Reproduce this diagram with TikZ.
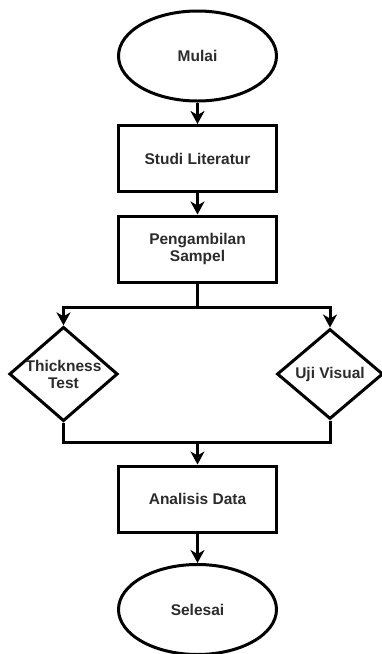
\documentclass[tikz,border=0pt]{standalone}
\usepackage{fontspec}
\setmainfont{Liberation Sans}
\usetikzlibrary{shapes.geometric,arrows.meta}
\definecolor{labelgrey}{HTML}{2B2B2B}
\begin{document}
\begin{tikzpicture}[x=1pt,y=-1pt,
  every node/.style={font=\bfseries\fontsize{15.5}{17}\selectfont, text=labelgrey, align=center},
  terminal/.style={ellipse, draw, line width=3pt, minimum width=158pt, minimum height=90pt, inner sep=0pt},
  process/.style={rectangle, draw, line width=3pt, minimum width=158pt, minimum height=66pt, inner sep=0pt},
  decision/.style={diamond, draw, line width=3pt, minimum width=106pt, minimum height=90pt, inner sep=0pt, aspect=1.15},
  link/.style={line width=3pt, -{Stealth[length=13pt,width=14pt,inset=4pt]}},
  wire/.style={line width=3pt}
]
\useasboundingbox (0,0) rectangle (382,654);
\node[terminal] (mulai) at (197.5,56) {Mulai};
\node[process] (studi) at (197.5,158.5) {Studi Literatur};
\node[process] (ambil) at (197.5,249) {Pengambilan\\Sampel};
\node[decision] (tebal) at (63.5,374) {Thickness\\Test};
\node[decision] (visual) at (330,374) {Uji Visual};
\node[process] (analisis) at (197.5,499) {Analisis Data};
\node[terminal] (selesai) at (197.5,609.5) {Selesai};

\coordinate (cabang) at (197.5,307);
\coordinate (gabung) at (197.5,442.5);

\draw[link] (mulai) -- (studi);
\draw[link] (studi) -- (ambil);
\draw[wire] (ambil.south) -- (cabang);
\draw[link] (cabang) -| (tebal.north);
\draw[link] (cabang) -| (visual.north);
\draw[wire] (tebal.south) |- (gabung);
\draw[wire] (visual.south) |- (gabung);
\draw[link] (gabung) -- (analisis);
\draw[link] (analisis) -- (selesai);
\end{tikzpicture}
\end{document}
